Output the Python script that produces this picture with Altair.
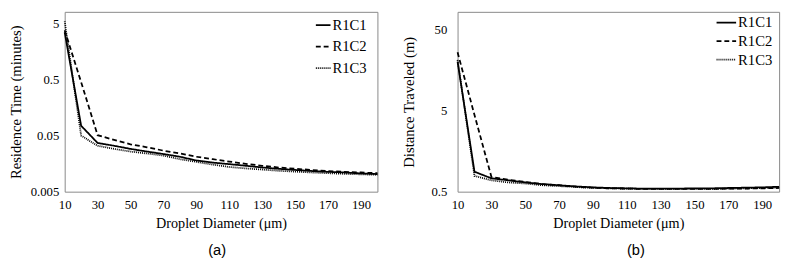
import altair as alt
import pandas as pd

diameters = [10, 20, 30, 40, 50, 60, 70, 80, 90, 100, 110, 120, 130, 140, 150, 160, 170, 180, 190, 200]
series = ["R1C1", "R1C2", "R1C3"]

# Panel (a): residence time (minutes)
time_r1c1 = [3.5, 0.075, 0.037, 0.033, 0.029, 0.026, 0.0235, 0.021, 0.018, 0.0165, 0.0155,
             0.0145, 0.0135, 0.0128, 0.0122, 0.0117, 0.0113, 0.011, 0.0106, 0.0103]
time_r1c2 = [3.8, 0.45, 0.051, 0.042, 0.035, 0.031, 0.027, 0.024, 0.021, 0.019, 0.0172,
             0.0157, 0.0145, 0.0135, 0.0128, 0.0122, 0.0117, 0.0113, 0.011, 0.0107]
time_r1c3 = [5.5, 0.05, 0.033, 0.029, 0.026, 0.024, 0.022, 0.019, 0.017, 0.0152, 0.0138,
             0.013, 0.0124, 0.0118, 0.0114, 0.011, 0.0107, 0.0104, 0.0102, 0.0100]

# Panel (b): distance traveled (m)
dist_r1c1 = [20.0, 0.88, 0.73, 0.69, 0.65, 0.62, 0.60, 0.58, 0.565, 0.555, 0.55,
             0.545, 0.545, 0.545, 0.55, 0.55, 0.555, 0.56, 0.565, 0.575]
dist_r1c2 = [26.0, 4.4, 0.76, 0.70, 0.66, 0.62, 0.60, 0.575, 0.56, 0.55, 0.545,
             0.54, 0.54, 0.54, 0.54, 0.54, 0.545, 0.545, 0.55, 0.555]
dist_r1c3 = [21.0, 0.78, 0.69, 0.65, 0.63, 0.60, 0.585, 0.57, 0.555, 0.55, 0.545,
             0.54, 0.54, 0.54, 0.54, 0.54, 0.545, 0.55, 0.555, 0.56]

x_ticks = [10, 30, 50, 70, 90, 110, 130, 150, 170, 190]
time_ticks = [0.005, 0.05, 0.5, 5]
dist_ticks = [0.5, 5, 50]


def long_df(cols):
    rows = []
    for name, vals in zip(series, cols):
        for d, v in zip(diameters, vals):
            rows.append({"d": d, "v": v, "s": name})
    return pd.DataFrame(rows)


df_time = long_df([time_r1c1, time_r1c2, time_r1c3])
df_dist = long_df([dist_r1c1, dist_r1c2, dist_r1c3])

SERIF = "Liberation Serif"
SANS = "Liberation Sans"


def panel(df, ytitle, ydomain, yticks, w, h, caption, cap_dx, legx, legy, symsize,
          row_pad, label_pad, extent, title_pad):
    leg = alt.Legend(
        title=None, orient="none", legendX=legx, legendY=legy,
        symbolType="stroke", symbolSize=symsize, symbolStrokeColor="black",
        labelFont=SERIF, labelFontSize=15, labelColor="black", labelOffset=1,
        rowPadding=row_pad, padding=0,
    )
    return alt.Chart(df).mark_line(color="black").encode(
        x=alt.X("d:Q",
                scale=alt.Scale(domain=[10, 200], nice=False, zero=False),
                axis=alt.Axis(values=x_ticks, title="Droplet Diameter (μm)",
                              labelFlush=False, labelOverlap=False,
                              labelPadding=7, titlePadding=6,
                              titleFontSize=14.5)),
        y=alt.Y("v:Q",
                scale=alt.Scale(type="log", domain=ydomain, nice=False),
                axis=alt.Axis(values=yticks, format="~g", title=ytitle,
                              labelFlush=False, labelOverlap=False,
                              labelPadding=label_pad, minExtent=extent,
                              maxExtent=extent, titlePadding=title_pad,
                              titleFontSize=15)),
        strokeDash=alt.StrokeDash("s:N", scale=alt.Scale(domain=series,
                                  range=[[1, 0], [5, 3], [1, 1]]), legend=leg),
        strokeWidth=alt.StrokeWidth("s:N", scale=alt.Scale(domain=series,
                                    range=[1.8, 1.8, 1.0]), legend=leg),
    ).properties(
        width=w, height=h,
        title=alt.TitleParams(caption, orient="bottom", anchor="middle",
                              font=SANS, fontSize=15,
                              fontWeight="normal", color="black",
                              offset=13, dx=cap_dx),
    )


left = panel(df_time, "Residence Time (minutes)", [0.005, 8.1], time_ticks,
             320, 184, "(a)", -4, 256, 5, 225, 5, 6, 35, 7)
right = panel(df_dist, "Distance Traveled (m)", [0.5, 82], dist_ticks,
              329, 184, "(b)", 18, 264, 0, 400, 0, 11, 30, 12)

chart = alt.hconcat(left, right, spacing=19).resolve_scale(
    strokeDash="independent", strokeWidth="independent",
).resolve_legend(
    strokeDash="independent", strokeWidth="independent",
).configure(
    padding=0,
).configure_view(
    stroke="#888888", strokeWidth=1,
).configure_axis(
    domain=False, ticks=False, grid=False,
    labelFont=SERIF, labelFontSize=13, labelColor="black",
    titleFont=SERIF, titleFontWeight="normal", titleColor="black",
)

chart.save("out.html", embed_options={"renderer": "svg", "actions": False})
